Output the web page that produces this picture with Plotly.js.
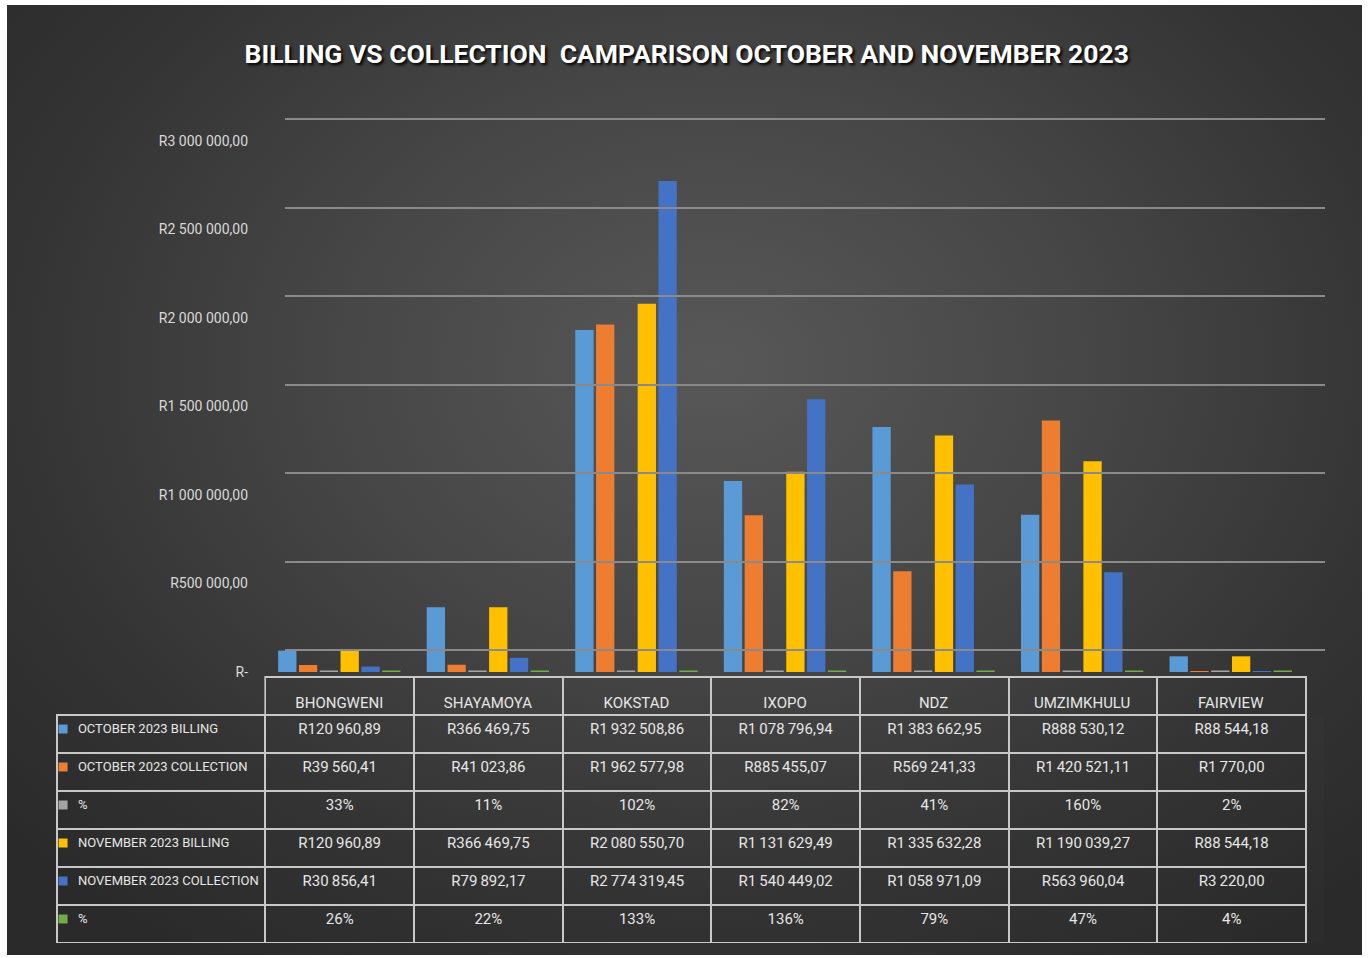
<!DOCTYPE html>
<html>
<head>
<meta charset="utf-8">
<script src="https://cdn.plot.ly/plotly-3.0.1.min.js"></script>
<style>
html,body{margin:0;padding:0;background:#ffffff;width:1368px;height:958px;overflow:hidden;}
#bg{position:absolute;left:7px;top:5px;width:1355px;height:950px;
 background:radial-gradient(ellipse 70% 75% at 52% 38%, #585858 0%, #464646 40%, #333333 75%, #2a2a2a 100%);}
#chart{position:absolute;left:0;top:0;width:1368px;height:958px;}
</style>
</head>
<body>
<div id="bg"></div>
<div id="chart"></div>
<script>
// ---- data ----
const categories = ["BHONGWENI","SHAYAMOYA","KOKSTAD","IXOPO","NDZ","UMZIMKHULU","FAIRVIEW"];
const seriesNames = ["OCTOBER 2023 BILLING","OCTOBER 2023 COLLECTION","%","NOVEMBER 2023 BILLING","NOVEMBER 2023 COLLECTION","%"];
const octBilling    = [120960.89, 366469.75, 1932508.86, 1078796.94, 1383662.95, 888530.12, 88544.18];
const octCollection = [39560.41, 41023.86, 1962577.98, 885455.07, 569241.33, 1420521.11, 1770.00];
const octPct        = [0.33, 0.11, 1.02, 0.82, 0.41, 1.60, 0.02];
const novBilling    = [120960.89, 366469.75, 2080550.70, 1131629.49, 1335632.28, 1190039.27, 88544.18];
const novCollection = [30856.41, 79892.17, 2774319.45, 1540449.02, 1058971.09, 563960.04, 3220.00];
const novPct        = [0.26, 0.22, 1.33, 1.36, 0.79, 0.47, 0.04];
const tickValues = [0, 500000, 1000000, 1500000, 2000000, 2500000, 3000000];
const tickLabels = ["R-", "R500 000,00", "R1 000 000,00", "R1 500 000,00", "R2 000 000,00", "R2 500 000,00", "R3 000 000,00"];
const colors = ["#5b9bd5", "#ed7d31", "#a5a5a5", "#ffc000", "#4472c4", "#70ad47"];
const allSeries = [octBilling, octCollection, octPct, novBilling, novCollection, novPct];

// ---- formatting helpers ----
function fmtRand(v){
  const parts = v.toFixed(2).split(".");
  const intPart = parts[0].replace(/\B(?=(\d{3})+(?!\d))/g, "\u2009");
  return "R" + intPart + "," + parts[1];
}
function fmtPct(v){ return Math.round(v*100) + "%"; }

const W = 1368, H = 958;
const px = (v) => v / W;
const py = (v) => 1 - v / H;

const FONT = "Roboto, 'Liberation Sans Narrow', sans-serif";

// bars
const traces = allSeries.map((vals, i) => ({
  type: "bar",
  name: seriesNames[i],
  x: categories,
  y: vals,
  xaxis: "x",
  yaxis: "y",
  marker: {color: colors[i], line: {color: colors[i], width: (i === 2 || i === 5) ? 3 : 0}},
  hoverinfo: "x+y+name",
  showlegend: false
}));

// invisible trace to establish back-wall gridline axes
traces.push({
  type: "scatter", x: [0], y: [0], xaxis: "x2", yaxis: "y2",
  mode: "markers", marker: {opacity: 0}, hoverinfo: "skip", showlegend: false
});

// table geometry
const tableTop = 677, headerH = 38, rowH = 38, nRows = seriesNames.length;
const tableBottom = tableTop + headerH + rowH * nRows;
const textLift = 5;

// legend keys inside the table's first column
traces.push({
  type: "scatter",
  x: seriesNames.map(() => 0),
  y: seriesNames.map((n, i) => i),
  xaxis: "x3", yaxis: "y3",
  mode: "markers",
  marker: {symbol: "square", size: 9, color: colors},
  hoverinfo: "skip", showlegend: false
});

const pad = "\u00A0\u00A0\u00A0\u00A0";
const rowLabels = seriesNames.map((n) => pad + n.replace(/ /g, "\u00A0"));
const tableCols = [rowLabels];
for (let c = 0; c < categories.length; c++) {
  tableCols.push(allSeries.map((vals, i) => (i === 2 || i === 5) ? fmtPct(vals[c]) : fmtRand(vals[c])));
}
const headerLineColors = ["rgba(0,0,0,0)"].concat(categories.map(() => "#c8c8c8"));
traces.push({
  type: "table",
  domain: {x: [px(57), px(1306)], y: [py(tableBottom), py(tableTop)]},
  columnwidth: [208].concat(categories.map(() => 148.4)),
  header: {
    values: [""].concat(categories.map(() => "")),
    align: "center",
    height: headerH,
    fill: {color: "rgba(0,0,0,0)"},
    line: {color: headerLineColors, width: 2},
    font: {family: FONT, size: 15, color: "#e6e6e6"}
  },
  cells: {
    values: tableCols,
    align: ["left"].concat(categories.map(() => "center")),
    height: rowH,
    fill: {color: "rgba(0,0,0,0)"},
    line: {color: "#c8c8c8", width: 2},
    font: {family: FONT, size: [13].concat(categories.map(() => 15)), color: "#e6e6e6"}
  }
});

// axis geometry
const yZeroPx = 672, yTopPx = 141;           // front scale
const pxPerUnit = (yZeroPx - yTopPx) / 3000000;
const backShiftPx = 22;
const backShiftVal = backShiftPx / pxPerUnit;
const backTopVal = 3060000;

const layout = {
  width: W, height: H,
  margin: {l: 0, r: 0, t: 0, b: 0},
  paper_bgcolor: "rgba(0,0,0,0)",
  plot_bgcolor: "rgba(0,0,0,0)",
  barmode: "group",
  bargap: 0.16,
  bargroupgap: 0.12,
  font: {family: FONT, color: "#d9d9d9"},
  title: {
    text: "BILLING VS COLLECTION  CAMPARISON OCTOBER AND NOVEMBER 2023",
    x: 0.502, xanchor: "center", y: py(54), yanchor: "middle",
    font: {family: FONT, size: 26.5, color: "#ffffff", weight: "bold", shadow: "2px 2px 3px #000000"}
  },
  xaxis: {
    domain: [px(265), px(1305)],
    range: [-0.5, 6.5],
    showticklabels: true,
    tickfont: {family: FONT, size: 15, color: "#e6e6e6"},
    ticklabelstandoff: 20,
    showgrid: false, zeroline: false, showline: false, ticks: "",
    fixedrange: true
  },
  yaxis: {
    domain: [py(yZeroPx), py(yTopPx)],
    range: [0, 3000000],
    tickvals: tickValues,
    ticktext: tickLabels,
    tickfont: {family: FONT, size: 14, color: "#d9d9d9"},
    ticklabelstandoff: 16,
    showgrid: false, zeroline: false, showline: false, ticks: "",
    fixedrange: true
  },
  xaxis2: {
    domain: [px(285), px(1325)],
    range: [0, 1],
    showticklabels: false, showgrid: false, zeroline: false, showline: false,
    anchor: "y2", fixedrange: true
  },
  yaxis2: {
    domain: [py(yZeroPx), py(yTopPx - backShiftPx - (backTopVal - 3000000) * pxPerUnit)],
    range: [-backShiftVal, backTopVal],
    tickvals: tickValues,
    showticklabels: false,
    showgrid: true, gridcolor: "#8a8a8a", gridwidth: 2,
    zeroline: false, showline: false,
    anchor: "x2", fixedrange: true
  },
  xaxis3: {
    domain: [px(57), px(265)],
    range: [-0.6, 20],
    visible: false, anchor: "y3", fixedrange: true
  },
  yaxis3: {
    domain: [py(tableBottom - textLift), py(tableTop + headerH - textLift)],
    range: [nRows - 0.5, -0.5],
    visible: false, anchor: "x3", fixedrange: true
  }
};

Plotly.newPlot("chart", traces, layout, {displayModeBar: false});
</script>
</body>
</html>
